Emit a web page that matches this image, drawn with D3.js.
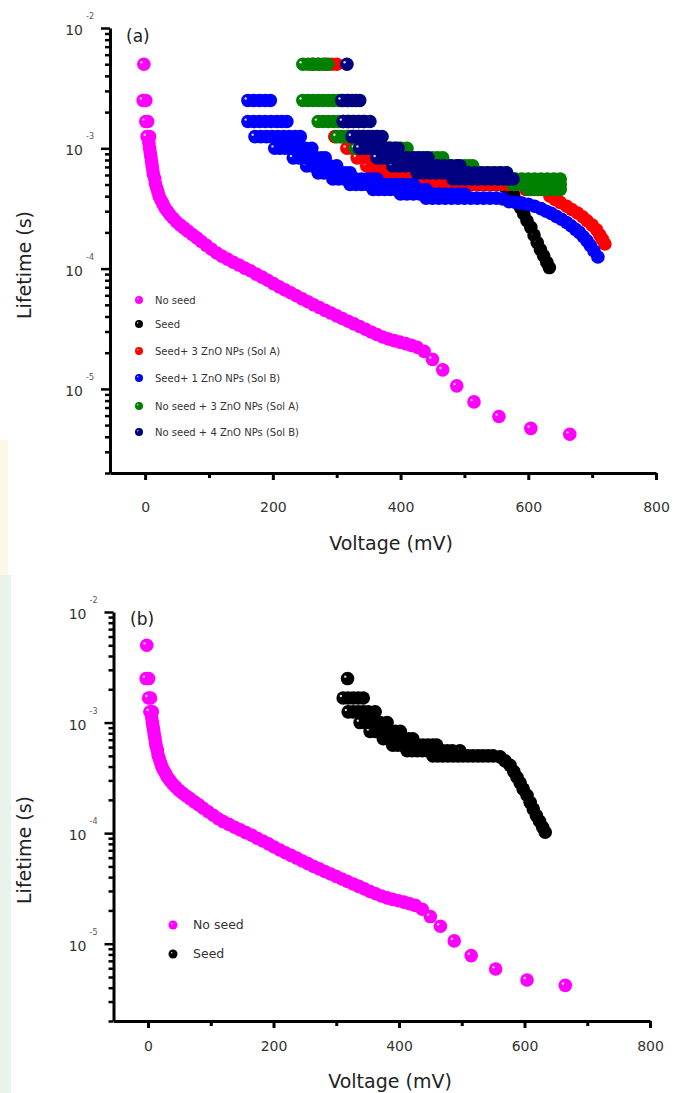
<!DOCTYPE html>
<html><head><meta charset="utf-8">
<script src="https://cdn.jsdelivr.net/npm/d3@7"></script>
<style>body{margin:0;background:#fff}svg{display:block}</style>
</head><body><svg id="c" width="673" height="1093"></svg>
<script>
// ---------- data ----------
const xMajorTicks = [0, 200, 400, 600, 800];
const xMinorTicks = [100, 300, 500, 700];
const yDecadeTicks = [1e-5, 1e-4, 1e-3, 1e-2];
const yDecadeExponents = ["-5", "-4", "-3", "-2"];
const seriesNames = ["No seed", "Seed", "Seed+ 3 ZnO NPs (Sol A)", "Seed+ 1 ZnO NPs (Sol B)",
                     "No seed + 3 ZnO NPs (Sol A)", "No seed + 4 ZnO NPs (Sol B)"];
const seriesColors = ["#ff00ff", "#000000", "#ff0000", "#0000ff", "#008000", "#000080"];

// [voltage mV, lifetime s]
const noSeed = [[-2,5.0e-3],[-3,2.5e-3],[1,2.5e-3],[1,1.67e-3],[4,1.67e-3],[3,1.25e-3],[7,1.25e-3],
 [6,1.1e-3],[7,1.0e-3],[8,9.2e-4],[9,8.5e-4],[10,7.8e-4],[11,7.2e-4],[12,6.6e-4],[13,6.1e-4],[15,5.6e-4],[16,5.1e-4],
 [18,4.7e-4],[20,4.35e-4],[22,4.0e-4],[25,3.7e-4],[28,3.45e-4],[31,3.2e-4],[35,3.0e-4],[39,2.8e-4],[44,2.62e-4],
 [49,2.45e-4],[55,2.3e-4],[61,2.17e-4],[67,2.05e-4],[74,1.92e-4],[81,1.8e-4],[88,1.68e-4],[96,1.56e-4],[104,1.45e-4],
 [112,1.35e-4],[120,1.27e-4],[129,1.2e-4],[138,1.13e-4],[147,1.07e-4],[156,1.01e-4],[165,9.6e-5],[174,9.0e-5],
 [183,8.5e-5],[192,8.0e-5],[201,7.5e-5],[210,7.05e-5],[219,6.65e-5],[228,6.3e-5],[237,5.95e-5],[246,5.6e-5],
 [255,5.3e-5],[264,5.0e-5],[273,4.75e-5],[282,4.5e-5],[291,4.27e-5],[300,4.05e-5],[309,3.85e-5],[318,3.65e-5],
 [327,3.47e-5],[336,3.3e-5],[345,3.13e-5],[354,2.97e-5],[363,2.83e-5],[372,2.7e-5],[381,2.6e-5],[390,2.52e-5],
 [399,2.45e-5],[408,2.38e-5],[417,2.3e-5],[426,2.22e-5],[437,2.05e-5],[450,1.76e-5],[466,1.44e-5],[488,1.06e-5],
 [515,7.8e-6],[554,5.9e-6],[604,4.7e-6],[665,4.2e-6]];

const seed = [[318,2.5e-3],
 [311,1.67e-3],[319,1.67e-3],[327,1.67e-3],[335,1.67e-3],[343,1.67e-3],
 [319,1.25e-3],[327,1.25e-3],[335,1.25e-3],[343,1.25e-3],[351,1.25e-3],[362,1.25e-3],
 [338,1.0e-3],[346,1.0e-3],[354,1.0e-3],[362,1.0e-3],[370,1.0e-3],[381,1.0e-3],
 [354,8.33e-4],[362,8.33e-4],[370,8.33e-4],[378,8.33e-4],[386,8.33e-4],[394,8.33e-4],[402,8.33e-4],
 [375,7.14e-4],[383,7.14e-4],[391,7.14e-4],[399,7.14e-4],[407,7.14e-4],[415,7.14e-4],[422,7.14e-4],
 [390,6.25e-4],[398,6.25e-4],[406,6.25e-4],[414,6.25e-4],[422,6.25e-4],[430,6.25e-4],[438,6.25e-4],[446,6.25e-4],[454,6.25e-4],[460,6.25e-4],
 [413,5.56e-4],[421,5.56e-4],[429,5.56e-4],[437,5.56e-4],[445,5.56e-4],[453,5.56e-4],[461,5.56e-4],[469,5.56e-4],[477,5.56e-4],[485,5.56e-4],[497,5.56e-4],
 [454,5.0e-4],[462,5.0e-4],[470,5.0e-4],[478,5.0e-4],[486,5.0e-4],[494,5.0e-4],[502,5.0e-4],[510,5.0e-4],[518,5.0e-4],[526,5.0e-4],[534,5.0e-4],[542,5.0e-4],[550,5.0e-4],[561,4.9e-4],
 [569,4.5e-4],[577,4.1e-4],[583,3.6e-4],[588,3.2e-4],[593,2.85e-4],[598,2.5e-4],[604,2.2e-4],[609,1.9e-4],[614,1.65e-4],[619,1.44e-4],[624,1.28e-4],[629,1.13e-4],[633,1.02e-4]];

const seedSolA = [[262,5e-3],[272,5e-3],[282,5e-3],[292,5e-3],[300,5e-3],
 [297,1.25e-3],[305,1.25e-3],
 [316,1.0e-3],[324,1.0e-3],[332,1.0e-3],
 [332,8.33e-4],[340,8.33e-4],[348,8.33e-4],[356,8.33e-4],[363,8.33e-4],
 [347,7.14e-4],[355,7.14e-4],[363,7.14e-4],[371,7.14e-4],[380,7.14e-4],[388,7.14e-4],
 [357,6.25e-4],[366,6.25e-4],[375,6.25e-4],[384,6.25e-4],[393,6.25e-4],[402,6.25e-4],[411,6.25e-4],[420,6.25e-4],[426,6.25e-4],
 [388,5.56e-4],[398,5.56e-4],[408,5.56e-4],[418,5.56e-4],[428,5.56e-4],[438,5.56e-4],[448,5.56e-4],[458,5.56e-4],[468,5.56e-4],
 [478,5.56e-4],[488,5.56e-4],[498,5.56e-4],[508,5.56e-4],[518,5.56e-4],[528,5.56e-4],[538,5.56e-4],[548,5.56e-4],[556,5.56e-4],
 [438,5.0e-4],[448,5.0e-4],[458,5.0e-4],[468,5.0e-4],[478,5.0e-4],
 [488,5.0e-4],[498,5.0e-4],[508,5.0e-4],[518,5.0e-4],[528,5.0e-4],[538,5.0e-4],[548,5.0e-4],[558,5.0e-4],[568,5.0e-4],[578,5.0e-4],[588,5.0e-4],[596,5.0e-4],[602,5.0e-4],
 [596,4.55e-4],[606,4.55e-4],[616,4.55e-4],[626,4.55e-4],
 [634,4.0e-4],[642,3.75e-4],[650,3.55e-4],[660,3.3e-4],[668,3.1e-4],[677,2.9e-4],[685,2.7e-4],[692,2.5e-4],[700,2.3e-4],[707,2.1e-4],[712,1.9e-4],[716,1.75e-4],[720,1.6e-4]];

const seedSolB = [[161,2.5e-3],[170,2.5e-3],[179,2.5e-3],[188,2.5e-3],[196,2.5e-3],
 [161,1.67e-3],[170,1.67e-3],[179,1.67e-3],[188,1.67e-3],[197,1.67e-3],[206,1.67e-3],[214,1.67e-3],[222,1.67e-3],
 [172,1.25e-3],[181,1.25e-3],[190,1.25e-3],[199,1.25e-3],[208,1.25e-3],[217,1.25e-3],[226,1.25e-3],[235,1.25e-3],[243,1.25e-3],
 [203,1.0e-3],[211,1.0e-3],[219,1.0e-3],[227,1.0e-3],[235,1.0e-3],[243,1.0e-3],[251,1.0e-3],[261,1.0e-3],
 [232,8.33e-4],[241,8.33e-4],[250,8.33e-4],[259,8.33e-4],[268,8.33e-4],[276,8.33e-4],[282,8.33e-4],
 [253,7.14e-4],[262,7.14e-4],[271,7.14e-4],[280,7.14e-4],[289,7.14e-4],[300,7.14e-4],
 [271,6.25e-4],[280,6.25e-4],[289,6.25e-4],[298,6.25e-4],[307,6.25e-4],[314,6.25e-4],[321,6.25e-4],
 [294,5.56e-4],[303,5.56e-4],[312,5.56e-4],[321,5.56e-4],[330,5.56e-4],[339,5.56e-4],[348,5.56e-4],[356,5.56e-4],[363,5.56e-4],
 [321,5.0e-4],[330,5.0e-4],[339,5.0e-4],[348,5.0e-4],[357,5.0e-4],[366,5.0e-4],[375,5.0e-4],[384,5.0e-4],[393,5.0e-4],[402,5.0e-4],[411,5.0e-4],[420,5.0e-4],
 [357,4.55e-4],[366,4.55e-4],[375,4.55e-4],[384,4.55e-4],[393,4.55e-4],[402,4.55e-4],[411,4.55e-4],[420,4.55e-4],[430,4.55e-4],[440,4.55e-4],
 [400,4.17e-4],[410,4.17e-4],[420,4.17e-4],[430,4.17e-4],[440,4.17e-4],[450,4.17e-4],[460,4.17e-4],[470,4.17e-4],[480,4.17e-4],[490,4.17e-4],[500,4.17e-4],
 [440,3.85e-4],[450,3.85e-4],[460,3.85e-4],[470,3.85e-4],[480,3.85e-4],[490,3.85e-4],[500,3.85e-4],[510,3.85e-4],[520,3.85e-4],[530,3.85e-4],[540,3.85e-4],[550,3.85e-4],[560,3.8e-4],
 [570,3.6e-4],[580,3.55e-4],[590,3.5e-4],[600,3.42e-4],[610,3.3e-4],[620,3.15e-4],[628,3.0e-4],[636,2.88e-4],[644,2.72e-4],[652,2.57e-4],
 [660,2.42e-4],[667,2.27e-4],[674,2.12e-4],[680,2.0e-4],[686,1.85e-4],[692,1.7e-4],[697,1.56e-4],[703,1.4e-4],[709,1.25e-4]];

const noSeedSolA = [[247,5e-3],[255,5e-3],[263,5e-3],[271,5e-3],[279,5e-3],[286,5e-3],
 [247,2.5e-3],[255,2.5e-3],[263,2.5e-3],[271,2.5e-3],[279,2.5e-3],[287,2.5e-3],[295,2.5e-3],[303,2.5e-3],[310,2.5e-3],
 [271,1.67e-3],[279,1.67e-3],[287,1.67e-3],[295,1.67e-3],[303,1.67e-3],[310,1.67e-3],[316,1.67e-3],
 [300,1.25e-3],[308,1.25e-3],[316,1.25e-3],[325,1.25e-3],
 [329,1.0e-3],[338,1.0e-3],[347,1.0e-3],[356,1.0e-3],[365,1.0e-3],[374,1.0e-3],[383,1.0e-3],[392,1.0e-3],[401,1.0e-3],[410,1.0e-3],
 [380,8.33e-4],[390,8.33e-4],[400,8.33e-4],[410,8.33e-4],[420,8.33e-4],[430,8.33e-4],[440,8.33e-4],[450,8.33e-4],[458,8.33e-4],[466,8.33e-4],
 [440,7.14e-4],[450,7.14e-4],[460,7.14e-4],[470,7.14e-4],[480,7.14e-4],[490,7.14e-4],[500,7.14e-4],[507,7.14e-4],[513,7.14e-4],
 [490,6.25e-4],[500,6.25e-4],[510,6.25e-4],[520,6.25e-4],[530,6.25e-4],[540,6.25e-4],[550,6.25e-4],[558,6.25e-4],[566,6.25e-4],
 [560,5.56e-4],[570,5.56e-4],[580,5.56e-4],[590,5.56e-4],[600,5.56e-4],[610,5.56e-4],[620,5.56e-4],[630,5.56e-4],[640,5.56e-4],[650,5.56e-4],
 [576,5.0e-4],[586,5.0e-4],[596,5.0e-4],[606,5.0e-4],[616,5.0e-4],[626,5.0e-4],[636,5.0e-4],[645,5.0e-4],[650,5.0e-4],
 [600,4.55e-4],[610,4.55e-4],[620,4.55e-4],[630,4.55e-4],[640,4.55e-4],[650,4.55e-4]];

const noSeedSolB = [[316,5e-3],
 [308,2.5e-3],[316,2.5e-3],[324,2.5e-3],[330,2.5e-3],[336,2.5e-3],
 [310,1.67e-3],[318,1.67e-3],[326,1.67e-3],[334,1.67e-3],[342,1.67e-3],[352,1.67e-3],
 [324,1.25e-3],[332,1.25e-3],[340,1.25e-3],[348,1.25e-3],[356,1.25e-3],[364,1.25e-3],[371,1.25e-3],
 [336,1.0e-3],[344,1.0e-3],[352,1.0e-3],[360,1.0e-3],[368,1.0e-3],[376,1.0e-3],[384,1.0e-3],[390,1.0e-3],[396,1.0e-3],
 [363,8.33e-4],[371,8.33e-4],[379,8.33e-4],[387,8.33e-4],[395,8.33e-4],[403,8.33e-4],[411,8.33e-4],[419,8.33e-4],[427,8.33e-4],[435,8.33e-4],[443,8.33e-4],
 [388,7.14e-4],[398,7.14e-4],[408,7.14e-4],[418,7.14e-4],[428,7.14e-4],[438,7.14e-4],[448,7.14e-4],[458,7.14e-4],[468,7.14e-4],[478,7.14e-4],[488,7.14e-4],[493,7.14e-4],
 [426,6.25e-4],[436,6.25e-4],[446,6.25e-4],[456,6.25e-4],[466,6.25e-4],[476,6.25e-4],[486,6.25e-4],[496,6.25e-4],[506,6.25e-4],[516,6.25e-4],[526,6.25e-4],[536,6.25e-4],[546,6.25e-4],[556,6.25e-4],[566,6.25e-4],
 [482,5.56e-4],[492,5.56e-4],[502,5.56e-4],[512,5.56e-4],[522,5.56e-4],[532,5.56e-4],[542,5.56e-4],[552,5.56e-4],[562,5.56e-4],[570,5.56e-4],[576,5.56e-4]];

// ---------- drawing ----------
const svg = d3.select("#c");
const FONT = "'DejaVu Sans', Verdana, sans-serif";

// faint watermark strip on the left edge of the scanned page
svg.append("rect").attr("x", 0).attr("y", 575).attr("width", 11).attr("height", 518).attr("fill", "#eaf2ec");
svg.append("rect").attr("x", 0).attr("y", 440).attr("width", 8).attr("height", 135).attr("fill", "#fbf8e6");

function drawPanel(cfg) {
  const x = d3.scaleLinear().domain([-55, 800]).range([cfg.left, cfg.right]);
  const y = d3.scaleLog().domain([2e-6, 1e-2]).range([cfg.bottom, cfg.top]);
  const g = svg.append("g");

  // data points: later (lower-voltage) points on top
  const pts = g.append("g");
  cfg.series.forEach((s) => {
    const sg = pts.append("g");
    const dots = sg.selectAll("g").data(s.data.slice().reverse()).join("g")
      .attr("transform", d => `translate(${x(d[0])},${y(d[1])})`);
    dots.append("circle").attr("r", cfg.r).attr("fill", s.color);
    dots.append("circle").attr("cx", -2.3).attr("cy", -1.9).attr("r", 1.2)
      .attr("fill", "#fff").attr("opacity", 0.85);
  });

  // x axis
  const xg = g.append("g").attr("transform", `translate(0,${cfg.bottom})`);
  xg.call(d3.axisBottom(x).tickValues(xMajorTicks).tickSize(7).tickSizeOuter(0).tickPadding(cfg.xPad).tickFormat(d3.format("d")));
  const xm = g.append("g").attr("transform", `translate(0,${cfg.bottom})`);
  xm.call(d3.axisBottom(x).tickValues(xMinorTicks).tickSize(5).tickFormat(""));
  xm.select(".domain").remove();
  [xg, xm].forEach(a => {
    a.select(".domain").attr("stroke", "#000").attr("stroke-width", 3);
    a.selectAll(".tick line").attr("stroke", "#000").attr("stroke-width", 3);
  });
  xg.selectAll(".tick text").attr("font-family", FONT).attr("font-size", cfg.tickFont).attr("fill", "#333");

  // y axis
  const yg = g.append("g").attr("transform", `translate(${cfg.left},0)`);
  yg.call(d3.axisLeft(y).tickValues(yDecadeTicks).tickSize(9).tickSizeOuter(0).tickFormat(""));
  const minor = y.ticks().filter(v => !yDecadeTicks.some(t => Math.abs(t - v) / t < 1e-6));
  const ym = g.append("g").attr("transform", `translate(${cfg.left},0)`);
  ym.call(d3.axisLeft(y).tickValues(minor).tickSize(5).tickFormat(""));
  ym.select(".domain").remove();
  [yg, ym].forEach(a => {
    a.select(".domain").attr("stroke", "#000").attr("stroke-width", 3);
    a.selectAll(".tick line").attr("stroke", "#000").attr("stroke-width", 2.5);
  });
  yDecadeTicks.forEach((t, i) => {
    g.append("text").attr("x", cfg.left - 27).attr("y", y(t) + 7)
      .attr("text-anchor", "end").attr("font-family", FONT).attr("font-size", cfg.tickFont)
      .attr("fill", "#333").text("10");
    g.append("text").attr("x", cfg.left - 24).attr("y", y(t) - 9)
      .attr("font-family", FONT).attr("font-size", 8).attr("fill", "#555").text(yDecadeExponents[i]);
  });

  // titles
  g.append("text").attr("transform", `translate(${cfg.yTitleX},${cfg.yTitleY}) rotate(-90)`)
    .attr("text-anchor", "middle").attr("font-family", FONT).attr("font-size", 19).attr("fill", "#222")
    .text("Lifetime (s)");
  g.append("text").attr("x", cfg.xTitleX).attr("y", cfg.xTitleY)
    .attr("text-anchor", "middle").attr("font-family", FONT).attr("font-size", 19).attr("fill", "#222")
    .text("Voltage (mV)");
  g.append("text").attr("x", cfg.labelX).attr("y", cfg.labelY)
    .attr("font-family", FONT).attr("font-size", 17).attr("fill", "#222").text(cfg.label);

  // legend
  const lg = g.append("g");
  cfg.series.forEach((s, i) => {
    const yy = cfg.legendY[i];
    lg.append("circle").attr("cx", cfg.legendX).attr("cy", yy).attr("r", cfg.legendR).attr("fill", s.color);
    lg.append("circle").attr("cx", cfg.legendX - 1.3).attr("cy", yy - 1.2).attr("r", 0.8).attr("fill", "#fff").attr("opacity", 0.8);
    lg.append("text").attr("x", cfg.legendX + cfg.legendGap).attr("y", yy + cfg.legendFont * 0.35)
      .attr("font-family", FONT).attr("font-size", cfg.legendFont).attr("fill", "#333").text(s.name);
  });
}

const allData = [noSeed, seed, seedSolA, seedSolB, noSeedSolA, noSeedSolB];

drawPanel({
  left: 110, right: 656, top: 28, bottom: 473, r: 6.8, tickFont: 14, xPad: 22,
  series: allData.map((d, i) => ({ data: d, color: seriesColors[i], name: seriesNames[i] })),
  yTitleX: 31, yTitleY: 265, xTitleX: 391, xTitleY: 550, label: "(a)", labelX: 126, labelY: 42,
  legendX: 139, legendGap: 16, legendR: 4, legendFont: 10, legendY: [300, 324, 351, 378, 406, 432]
});

drawPanel({
  left: 113.5, right: 650, top: 612, bottom: 1021, r: 6.8, tickFont: 14, xPad: 13,
  series: [0, 1].map(i => ({ data: allData[i], color: seriesColors[i], name: seriesNames[i] })),
  yTitleX: 31, yTitleY: 850, xTitleX: 390, xTitleY: 1088, label: "(b)", labelX: 130, labelY: 625,
  legendX: 173, legendGap: 20, legendR: 4.5, legendFont: 12.5, legendY: [925, 954]
});
</script></body></html>
